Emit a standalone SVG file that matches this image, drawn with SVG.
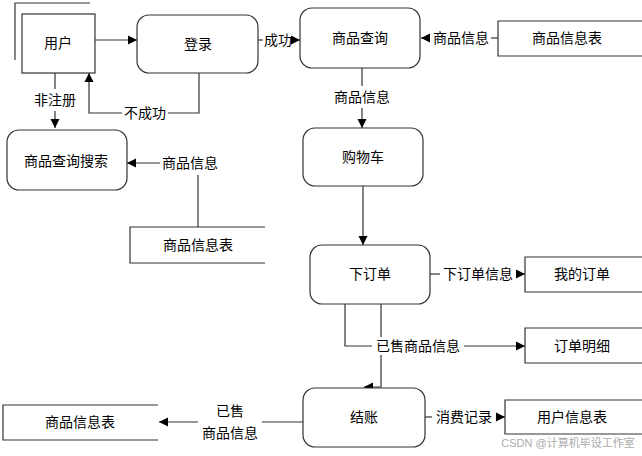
<svg xmlns="http://www.w3.org/2000/svg" width="642" height="456" viewBox="0 0 642 456">
<style>
text{font-family:"Liberation Sans","Noto Sans CJK SC",sans-serif;font-size:14px;fill:#000;text-anchor:middle;dominant-baseline:central}
.b{fill:#fff;stroke:#333;stroke-width:1.2}
.ds{fill:none;stroke:#333;stroke-width:1.2}
.c{fill:none;stroke:#333;stroke-width:1.2}
.bg{fill:#fff;stroke:none}
.wm{font-size:11px;fill:#aaa}
</style>
<defs>
<marker id="a" markerUnits="userSpaceOnUse" markerWidth="10" markerHeight="10" refX="9" refY="5" orient="auto">
<path d="M0,0.5 L9,5 L0,9.5 Z" fill="#000"/>
</marker>
</defs>
<rect width="642" height="456" fill="#fff"/>

<g id="connectors">
<path class="c" d="M95,40 H137" marker-end="url(#a)"/>
<path class="c" d="M258,40 H263"/>
<path class="c" d="M293,40 H300" marker-end="url(#a)"/>
<path class="c" d="M498,38 H491"/>
<path class="c" d="M430,38 H421" marker-end="url(#a)"/>
<path class="c" d="M362,68 V86"/>
<path class="c" d="M362,108 V128" marker-end="url(#a)"/>
<path class="c" d="M363,186 V245" marker-end="url(#a)"/>
<path class="c" d="M430,274 H440"/>
<path class="c" d="M516,274 H525" marker-end="url(#a)"/>
<path class="c" d="M381,304 V387 H364" marker-end="url(#a)"/>
<path class="c" d="M345,304 V346 H373"/>
<path class="c" d="M463,346 H525" marker-end="url(#a)"/>
<path class="c" d="M425,417 H432"/>
<path class="c" d="M496,417 H505" marker-end="url(#a)"/>
<path class="c" d="M303,422 H262"/>
<path class="c" d="M198,422 H159" marker-end="url(#a)"/>
<path class="c" d="M55,73 V89"/>
<path class="c" d="M55,111 V128" marker-end="url(#a)"/>
<path class="c" d="M199,73 V113 H168"/>
<path class="c" d="M122,113 H89 V73" marker-end="url(#a)"/>
<path class="c" d="M198,227 V175"/>
<path class="c" d="M160,163 H127" marker-end="url(#a)"/>
<rect class="bg" x="372" y="337" width="92" height="18"/>
<text x="278" y="40">成功</text>
<text x="461" y="38">商品信息</text>
<text x="362" y="97">商品信息</text>
<text x="478" y="274">下订单信息</text>
<text x="418" y="346">已售商品信息</text>
<text x="464" y="417">消费记录</text>
<text x="230" y="411">已售</text>
<text x="230" y="433">商品信息</text>
<text x="55" y="100">非注册</text>
<text x="145" y="113">不成功</text>
<text x="190" y="163">商品信息</text>
</g>

<g id="user">
<path class="ds" d="M15,60 V3 H90"/>
<rect class="b" x="22" y="14" width="73" height="59"/>
<text x="58" y="43">用户</text>
</g>
<g id="login">
<rect class="b" x="137" y="15" width="121" height="58" rx="12"/>
<text x="198" y="44">登录</text>
</g>
<g id="query">
<rect class="b" x="300" y="8" width="120" height="60" rx="12"/>
<text x="360" y="38">商品查询</text>
</g>
<g id="store-goods-top">
<path class="ds" d="M642,21 H498 V56 H642"/>
<text x="567" y="38">商品信息表</text>
</g>
<g id="cart">
<rect class="b" x="303" y="128" width="120" height="58" rx="12"/>
<text x="363" y="157">购物车</text>
</g>
<g id="search">
<rect class="b" x="7" y="130" width="120" height="60" rx="12"/>
<text x="66" y="161">商品查询搜索</text>
</g>
<g id="store-goods-mid">
<path class="ds" d="M265,227 H130 V263 H265"/>
<text x="198" y="245">商品信息表</text>
</g>
<g id="order">
<rect class="b" x="310" y="245" width="120" height="59" rx="12"/>
<text x="370" y="274">下订单</text>
</g>
<g id="my-order">
<path class="ds" d="M642,257 H525 V292 H642"/>
<text x="582" y="274">我的订单</text>
</g>
<g id="order-detail">
<path class="ds" d="M642,328 H525 V363 H642"/>
<text x="582" y="346">订单明细</text>
</g>
<g id="checkout">
<rect class="b" x="303" y="388" width="122" height="59" rx="12"/>
<text x="364" y="417">结账</text>
</g>
<g id="user-info">
<path class="ds" d="M642,400 H505 V434 H642"/>
<text x="572" y="417">用户信息表</text>
</g>
<g id="store-goods-bottom">
<path class="ds" d="M158,405 H3 V440 H158"/>
<text x="80" y="422">商品信息表</text>
</g>
<text class="wm" x="568" y="443">CSDN @计算机毕设工作室</text>
</svg>
